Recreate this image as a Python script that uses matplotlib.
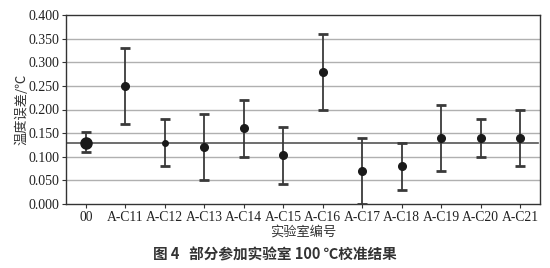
import matplotlib
matplotlib.use("Agg")
import matplotlib.pyplot as plt
import numpy as np

labs = ["00", "A-C11", "A-C12", "A-C13", "A-C14", "A-C15", "A-C16",
        "A-C17", "A-C18", "A-C19", "A-C20", "A-C21"]
vals = [0.130, 0.250, 0.130, 0.120, 0.160, 0.103, 0.280, 0.070, 0.080, 0.140, 0.140, 0.140]
upper = [0.153, 0.330, 0.180, 0.190, 0.220, 0.162, 0.360, 0.140, 0.130, 0.210, 0.180, 0.200]
lower = [0.110, 0.170, 0.080, 0.050, 0.100, 0.042, 0.200, 0.000, 0.030, 0.070, 0.100, 0.080]
ref_value = 0.130
yticks = [0.000, 0.050, 0.100, 0.150, 0.200, 0.250, 0.300, 0.350, 0.400]

plt.rcParams['font.family'] = ['Liberation Serif', 'Noto Sans CJK SC', 'DejaVu Sans']
cjk = ["Noto Sans CJK SC", "DejaVu Sans"]

fig = plt.figure(figsize=(5.5, 2.68), dpi=100)
ax = fig.add_axes([66/550, 1 - 204/268, (540-66)/550, (204-15)/268])

x = np.arange(len(labs))
v = np.array(vals)
err = np.vstack([v - np.array(lower), np.array(upper) - v])

for yt in yticks[1:-1]:
    ax.axhline(yt, color="#b0b0b0", lw=1.0, zorder=0)
ax.axhline(ref_value, xmax=0.995, color="#555555", lw=1.2, zorder=1)

ax.errorbar(x, v, yerr=err, fmt="none", ecolor="#3a3a3a", elinewidth=1.3,
            capsize=3.5, capthick=2.0, zorder=3)
sizes = [8] + [5.5] * (len(labs) - 1)
sizes[2] = 4
for xi, vi, s in zip(x, v, sizes):
    ax.plot(xi, vi, marker="o", ms=s, color="#1a1a1a", zorder=4)

ax.set_xlim(-0.5, 11.5)
ax.set_ylim(0, 0.4)
ax.set_xticks(x)
ax.set_xticklabels(labs, fontsize=9.8, color="#222222")
ax.set_yticks(yticks)
ax.set_yticklabels([f"{t:.3f}" for t in yticks], fontsize=10, color="#222222")
ax.tick_params(axis="both", direction="out", length=3, width=0.8, color="#333333", pad=2)
for s in ax.spines.values():
    s.set_color("#333333")
    s.set_linewidth(1.0)

ax.set_ylabel("温度误差/℃", family=cjk, fontsize=9.5, color="#333333", labelpad=0)
ax.set_xlabel("实验室编号", family=cjk, fontsize=9.5, color="#333333", labelpad=1)
fig.text(0.5, 1 - 254/268, "图 4   部分参加实验室 100 ℃校准结果", ha="center", va="center",
         family=cjk, fontsize=10.5, fontweight="bold", color="#333333")

fig.savefig("out.png", dpi=100)
